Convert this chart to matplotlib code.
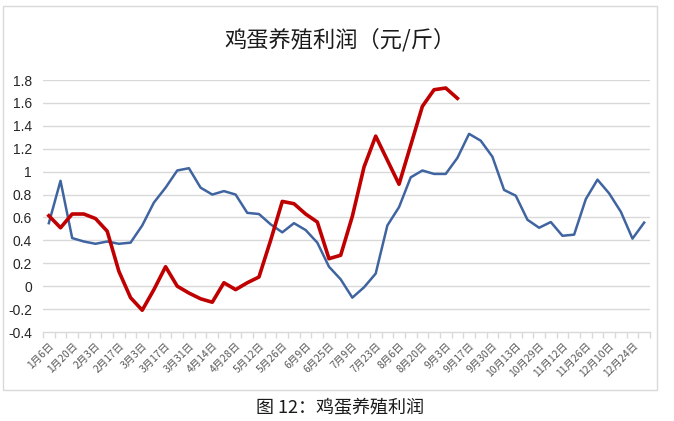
import matplotlib
matplotlib.use("Agg")
import matplotlib.pyplot as plt
from matplotlib.patches import Rectangle

plt.rcParams['font.family'] = ['Noto Sans CJK SC', 'DejaVu Sans']

tick_labels = ["1月6日", "1月20日", "2月3日", "2月17日", "3月3日", "3月17日", "3月31日",
               "4月14日", "4月28日", "5月12日", "5月26日", "6月9日", "6月25日", "7月9日",
               "7月23日", "8月6日", "8月20日", "9月3日", "9月17日", "9月30日", "10月13日",
               "10月29日", "11月12日", "11月26日", "12月10日", "12月24日"]

blue_values = [0.55, 0.92, 0.42, 0.39, 0.37, 0.39, 0.37, 0.38, 0.53, 0.73,
               0.86, 1.01, 1.03, 0.86, 0.80, 0.83, 0.80, 0.64, 0.63, 0.54,
               0.47, 0.55, 0.49, 0.38, 0.17, 0.06, -0.10, -0.01, 0.11, 0.53,
               0.69, 0.95, 1.01, 0.98, 0.98, 1.12, 1.33, 1.27, 1.13, 0.84,
               0.79, 0.58, 0.51, 0.56, 0.44, 0.45, 0.76, 0.93, 0.81, 0.65,
               0.415, 0.555]

red_values = [0.615, 0.51, 0.63, 0.63, 0.59, 0.48, 0.13, -0.10, -0.21, -0.03,
              0.17, 0.00, -0.06, -0.11, -0.14, 0.03, -0.03, 0.03, 0.08, 0.40,
              0.74, 0.72, 0.63, 0.56, 0.24, 0.27, 0.61, 1.04, 1.31, 1.10,
              0.89, 1.23, 1.57, 1.715, 1.73, 1.64]

y_ticks = [-0.4, -0.2, 0, 0.2, 0.4, 0.6, 0.8, 1, 1.2, 1.4, 1.6, 1.8]
y_tick_text = ["-0.4", "-0.2", "0", "0.2", "0.4", "0.6", "0.8", "1", "1.2", "1.4", "1.6", "1.8"]

title = "鸡蛋养殖利润（元/斤）"
caption = "图 12：鸡蛋养殖利润"

W, H = 674, 421
fig = plt.figure(figsize=(W / 100, H / 100), dpi=100)

# outer chart box
fig.patches.append(Rectangle((3 / W, 1 - 390 / H), (657 - 3) / W, (390 - 6) / H,
                             transform=fig.transFigure, fill=False,
                             edgecolor="#d9d9d9", linewidth=1.0))

ax = fig.add_axes([43 / W, 1 - 332 / H, (650 - 43) / W, (332 - 80) / H])
n = len(blue_values)
xs_b = list(range(n))
xs_r = list(range(len(red_values)))

ax.set_xlim(-0.5, n - 0.5)
ax.set_ylim(-0.4, 1.8)

for y in y_ticks[1:]:
    ax.axhline(y, color="#d9d9d9", linewidth=1.0, zorder=1)

ax.plot(xs_b, blue_values, color="#3F64A0", linewidth=1.8, zorder=3,
        solid_joinstyle="round")
ax.plot(xs_r, red_values, color="#C00000", linewidth=2.6, zorder=4,
        solid_joinstyle="round")

for s in ["top", "right", "left"]:
    ax.spines[s].set_visible(False)
ax.spines["bottom"].set_color("#d9d9d9")
ax.spines["bottom"].set_linewidth(1.0)

ax.set_yticks(y_ticks)
ax.set_yticklabels(y_tick_text, fontsize=10, color="#262626",
                   family=['Liberation Sans', 'DejaVu Sans'])
ax.tick_params(axis="y", length=0, pad=8)

# minor ticks at category boundaries
ax.set_xticks([i - 0.5 for i in range(n + 1)], minor=True)
ax.tick_params(axis="x", which="minor", length=4, color="#d9d9d9", width=1.0)
ax.set_xticks(list(range(0, n, 2)))
ax.set_xticklabels(tick_labels, fontsize=7.5, color="#595959", rotation=45,
                   ha="right", rotation_mode="anchor")
ax.tick_params(axis="x", which="major", length=0, pad=6)

fig.text(340 / W, 1 - 40 / H, title, ha="center", va="center", fontsize=16,
         color="#1a1a1a", fontweight="medium")
fig.text(340 / W, 1 - 408 / H, caption, ha="center", va="center", fontsize=13,
         color="#1a1a1a")

fig.savefig("out.png", dpi=100)
